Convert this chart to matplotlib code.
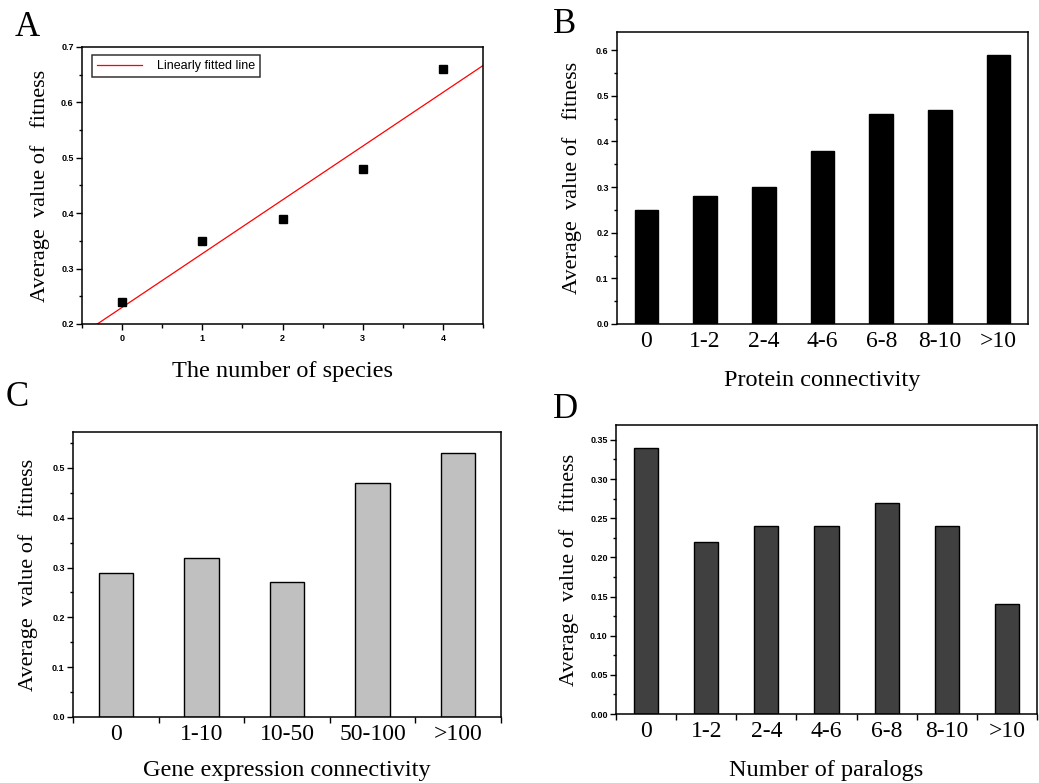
import numpy as np
import matplotlib
matplotlib.use("Agg")
import matplotlib.pyplot as plt
from matplotlib.ticker import MultipleLocator, FormatStrFormatter, FixedLocator

# panel A
species = [0, 1, 2, 3, 4]
fit_species = [0.24, 0.35, 0.39, 0.48, 0.66]
# panel B
protein_cats = ["0", "1-2", "2-4", "4-6", "6-8", "8-10", ">10"]
fit_protein = [0.25, 0.28, 0.30, 0.38, 0.46, 0.47, 0.59]
# panel C
expr_cats = ["0", "1-10", "10-50", "50-100", ">100"]
fit_expr = [0.29, 0.32, 0.27, 0.47, 0.53]
# panel D
paralog_cats = ["0", "1-2", "2-4", "4-6", "6-8", "8-10", ">10"]
fit_paralog = [0.34, 0.22, 0.24, 0.24, 0.27, 0.24, 0.14]

W, H = 1039, 783
fig = plt.figure(figsize=(W / 100, H / 100), dpi=100)

serif = "Liberation Serif"
sans = "Liberation Sans"
ylab = "Average  value of   fitness"


def pix_axes(x0, y0, x1, y1):
    return fig.add_axes([x0 / W, 1 - y1 / H, (x1 - x0) / W, (y1 - y0) / H])


def style(ax, fmt):
    for s in ax.spines.values():
        s.set_linewidth(1.1)
    ax.tick_params(axis="both", which="both", direction="out", top=False, right=False,
                   width=1.0)
    ax.tick_params(axis="y", which="major", length=4, pad=2)
    ax.tick_params(axis="y", which="minor", length=2.5)
    ax.yaxis.set_major_formatter(FormatStrFormatter(fmt))
    for t in ax.get_yticklabels():
        t.set_fontfamily(sans)
        t.set_fontsize(6.5)
        t.set_fontweight("bold")


def bar_panel(ax, cats, vals, color, ymax, ystep, yminor, fmt, xminor):
    x = np.arange(len(cats))
    ax.bar(x, vals, width=0.4, color=color, edgecolor="black", linewidth=1.0)
    ax.set_xlim(-0.5, len(cats) - 0.5)
    ax.set_ylim(0, ymax)
    ax.yaxis.set_major_locator(MultipleLocator(ystep))
    ax.yaxis.set_minor_locator(MultipleLocator(yminor))
    ax.set_xticks(x)
    ax.set_xticklabels(cats, fontfamily=serif, fontsize=17)
    ax.tick_params(axis="x", which="major", length=0, pad=5)
    if xminor:
        ax.xaxis.set_minor_locator(FixedLocator(np.arange(-0.5, len(cats), 1.0)))
        ax.tick_params(axis="x", which="minor", length=4)
    style(ax, fmt)


# A
axA = pix_axes(82, 47, 483, 324)
axA.plot(species, fit_species, "s", color="black", ms=5.5, zorder=3)
slope, icpt = np.polyfit(species, fit_species, 1)
xx = np.array([-0.5, 4.5])
axA.plot(xx, slope * xx + icpt, color="red", lw=0.9, label="Linearly fitted line")
axA.set_xlim(-0.5, 4.5)
axA.set_ylim(0.2, 0.7)
axA.xaxis.set_major_locator(MultipleLocator(1))
axA.xaxis.set_minor_locator(FixedLocator(np.arange(-0.5, 4.6, 1.0)))
axA.yaxis.set_major_locator(MultipleLocator(0.1))
axA.yaxis.set_minor_locator(MultipleLocator(0.05))
style(axA, "%.1f")
axA.tick_params(axis="x", which="major", length=4, pad=3)
axA.tick_params(axis="x", which="minor", length=3)
axA.xaxis.set_major_formatter(FormatStrFormatter("%d"))
for t in axA.get_xticklabels():
    t.set_fontfamily(sans)
    t.set_fontsize(6.5)
    t.set_fontweight("bold")
leg = axA.legend(loc="upper left", bbox_to_anchor=(0.025, 0.97), frameon=True, fancybox=False,
                 edgecolor="black", prop={"family": sans, "size": 9},
                 handlelength=3.6, borderpad=0.4, handletextpad=1.2, borderaxespad=0)
leg.get_frame().set_linewidth(1.1)
axA.set_xlabel("The number of species", fontfamily=serif, fontsize=17.5, labelpad=13)
axA.set_ylabel(ylab, fontfamily=serif, fontsize=16, labelpad=8)

# B
axB = pix_axes(617, 32, 1028, 324)
bar_panel(axB, protein_cats, fit_protein, "black", 0.64, 0.1, 0.05, "%.1f", False)
axB.set_xlabel("Protein connectivity", fontfamily=serif, fontsize=17.5, labelpad=13)
axB.set_ylabel(ylab, fontfamily=serif, fontsize=16, labelpad=10)

# C
axC = pix_axes(73, 432, 501, 717)
bar_panel(axC, expr_cats, fit_expr, "#c0c0c0", 0.572, 0.1, 0.05, "%.1f", True)
axC.set_xlabel("Gene expression connectivity", fontfamily=serif, fontsize=17.5, labelpad=11)
axC.set_ylabel(ylab, fontfamily=serif, fontsize=16, labelpad=10)

# D
axD = pix_axes(616, 425, 1037, 714)
bar_panel(axD, paralog_cats, fit_paralog, "#404040", 0.369, 0.05, 0.025, "%.2f", True)
axD.set_xlabel("Number of paralogs", fontfamily=serif, fontsize=17.5, labelpad=13)
axD.set_ylabel(ylab, fontfamily=serif, fontsize=16, labelpad=8)

# panel letters
for lab, x, y in [("A", 15, 36), ("B", 553, 33), ("C", 6, 406), ("D", 553, 418)]:
    fig.text(x / W, 1 - y / H, lab, fontfamily=serif, fontsize=25)

fig.savefig("out.png", dpi=100)
